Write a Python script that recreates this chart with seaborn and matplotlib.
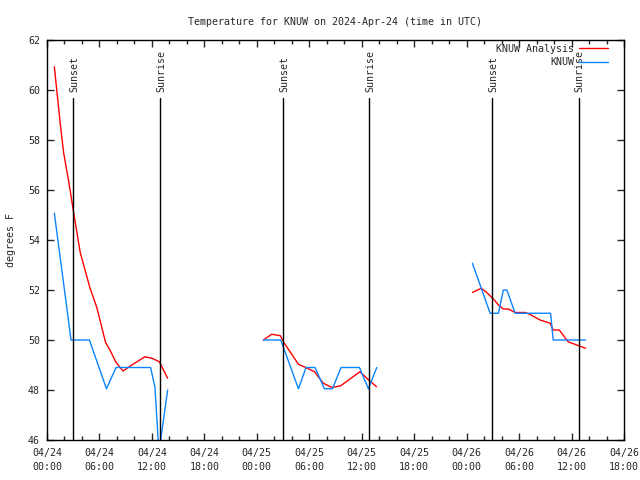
import numpy as np
import pandas as pd
import seaborn as sns
import matplotlib
matplotlib.use('Agg')
import matplotlib.pyplot as plt

# hours after 04/24 00:00 UTC
ana_hours_1 = [0.84, 1.5, 1.9, 2.5, 3.0, 3.8, 4.9, 5.7, 6.7, 7.2, 7.9, 8.7, 9.7, 11.2, 12.0, 12.85, 13.8]
ana_temp_1 = [60.93, 58.7, 57.5, 56.3, 55.2, 53.5, 52.1, 51.3, 49.9, 49.6, 49.1, 48.76, 49.0, 49.33, 49.27, 49.13, 48.47]
ana_hours_2 = [24.75, 25.7, 26.7, 27.04, 27.8, 28.76, 29.6, 30.6, 31.6, 32.6, 33.6, 34.5, 35.8, 36.8, 37.7]
ana_temp_2 = [50.0, 50.23, 50.17, 49.93, 49.53, 49.03, 48.9, 48.73, 48.27, 48.1, 48.17, 48.4, 48.73, 48.4, 48.13]
ana_hours_3 = [48.66, 49.66, 50.3, 51.06, 51.64, 52.2, 52.78, 53.55, 54.7, 55.2, 56.4, 57.55, 57.9, 58.6, 59.6, 60.6, 61.6]
ana_temp_3 = [51.9, 52.07, 51.9, 51.64, 51.4, 51.24, 51.24, 51.1, 51.1, 51.03, 50.8, 50.67, 50.4, 50.4, 49.93, 49.8, 49.67]

obs_hours_1 = [0.84, 2.75, 4.85, 6.8, 7.9, 11.85, 12.35, 12.8, 13.8]
obs_temp_1 = [55.07, 50.0, 50.0, 48.05, 48.9, 48.9, 48.1, 45.5, 48.0]
obs_hours_2 = [24.75, 26.74, 28.76, 29.63, 30.66, 31.73, 32.65, 33.64, 35.74, 36.76, 37.72]
obs_temp_2 = [50.0, 50.0, 48.05, 48.9, 48.9, 48.05, 48.05, 48.9, 48.9, 48.05, 48.9]
obs_hours_3 = [48.66, 50.69, 51.64, 52.2, 52.6, 53.55, 57.6, 57.9, 61.6]
obs_temp_3 = [53.07, 51.07, 51.07, 52.0, 52.0, 51.07, 51.07, 50.0, 50.0]

sun_hours = [3.0, 12.97, 27.04, 36.88, 50.95, 60.8]
sun_labels = ['Sunset', 'Sunrise', 'Sunset', 'Sunrise', 'Sunset', 'Sunrise']

tick_hours = list(range(0, 67, 6))
tick_labels = ['04/24\n00:00', '04/24\n06:00', '04/24\n12:00', '04/24\n18:00',
               '04/25\n00:00', '04/25\n06:00', '04/25\n12:00', '04/25\n18:00',
               '04/26\n00:00', '04/26\n06:00', '04/26\n12:00', '04/26\n18:00']


def seg_frame(hours, temps, name, seg):
    return pd.DataFrame({'hour': hours, 'temp': temps, 'series': name, 'seg': seg})


frames = [
    seg_frame(ana_hours_1, ana_temp_1, 'KNUW Analysis', 1),
    seg_frame(ana_hours_2, ana_temp_2, 'KNUW Analysis', 2),
    seg_frame(ana_hours_3, ana_temp_3, 'KNUW Analysis', 3),
    seg_frame(obs_hours_1, obs_temp_1, 'KNUW', 4),
    seg_frame(obs_hours_2, obs_temp_2, 'KNUW', 5),
    seg_frame(obs_hours_3, obs_temp_3, 'KNUW', 6),
]
df = pd.concat(frames, ignore_index=True)

sns.set_style('ticks')
plt.rcParams['font.family'] = ['DejaVu Sans Mono']
plt.rcParams['font.size'] = 7.2

fig = plt.figure(figsize=(6.4, 4.8), dpi=100)
ax = fig.add_axes([47/640, 40/480, 577/640, 400/480])

colors = {'KNUW Analysis': '#ff0000', 'KNUW': '#0a84ff'}
sns.lineplot(data=df, x='hour', y='temp', hue='series', units='seg', estimator=None,
             palette=colors, linewidth=1.0, sort=False, ax=ax)

# sunrise / sunset markers
for h, lab in zip(sun_hours, sun_labels):
    ax.plot([h, h], [46, 59.68], color='black', lw=1.0)
    ax.text(h + 0.1, 59.9, lab, rotation=90, ha='center', va='bottom', fontsize=7.2)

ax.set_xlim(0, 66)
ax.set_ylim(46, 62)
ax.set_xticks(tick_hours)
ax.set_xticklabels(tick_labels, linespacing=1.5)
ax.set_xticks(np.arange(0, 67, 2), minor=True)
ax.set_yticks(np.arange(46, 63, 2))
ax.tick_params(direction='in', which='both', top=True, right=True, labelsize=7.2)
ax.tick_params(which='major', length=5, width=1)
ax.tick_params(which='minor', length=3, width=1)
ax.tick_params(axis='x', pad=6)
ax.tick_params(axis='y', pad=5)
for s in ax.spines.values():
    s.set_linewidth(1.0)
    s.set_color('black')

ax.set_xlabel('')
ax.set_ylabel('')
fig.text(11/640, 0.5, 'degrees F', rotation=90, ha='center', va='center', fontsize=7.2)
ax.set_title('Temperature for KNUW on 2024-Apr-24 (time in UTC)', fontsize=7.2, pad=11)

handles, labels = ax.get_legend_handles_labels()
ax.legend(handles, labels, loc='upper right', bbox_to_anchor=(1 - 12/577, 1.0),
          frameon=False, markerfirst=False, handlelength=2.9, handletextpad=0.5,
          labelspacing=0.35, borderaxespad=0, borderpad=0.4, fontsize=7.2)

fig.savefig('out.png', dpi=100)
